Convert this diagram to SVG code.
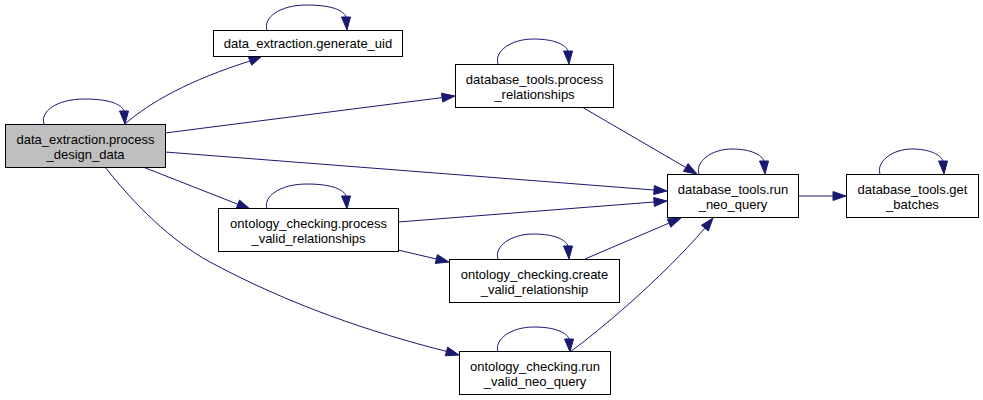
<svg xmlns="http://www.w3.org/2000/svg" width="983" height="400" viewBox="0 0 983 400">
<style>
.n rect{fill:#fff;stroke:#000;stroke-width:1}
.n.cur rect{fill:#bfbfbf}
.n text{font-family:"Liberation Sans",Arial,sans-serif;font-size:13px;text-anchor:middle;fill:#000}
.e path{fill:none;stroke:#191970;stroke-width:1}
.e polygon{fill:#191970;stroke:#191970;stroke-width:1}
</style>
<rect width="983" height="400" fill="#fff"/>
<g id="edges" class="e">
<path d="M44,124 C40,112 56,99 84.5,99 C111,99 122,105 124,111"/><polygon points="128.5,111 119.5,111 125,124"/>
<path d="M267,30 C263,18 279,5 307,5 C333,5 344,11 346,17"/><polygon points="350.5,17 341.5,17 347,30"/>
<path d="M498,64 C494,52 510,39 533.5,39 C555,39 566,45 568,51"/><polygon points="572.5,51 563.5,51 569,64"/>
<path d="M699,174 C695,162 711,149 732,149 C751,149 762,155 764,161"/><polygon points="768.5,161 759.5,161 765,174"/>
<path d="M880,174 C876,162 892,149 912,149 C930,149 941,155 943,161"/><polygon points="947.5,161 938.5,161 944,174"/>
<path d="M267,209 C263,197 279,184 307,184 C333,184 344,190 346,196"/><polygon points="350.5,196 341.5,196 347,209"/>
<path d="M498,259 C494,247 510,234 533.5,234 C555,234 566,240 568,246"/><polygon points="572.5,246 563.5,246 569,259"/>
<path d="M498,352 C494,340 510,327 534,327 C556,327 567,333 569,339"/><polygon points="573.5,339 564.5,339 570,352"/>
<path d="M125,124 C150,102 190,80 250,61"/><polygon points="262,56 251.7,65.2 248.3,56.8"/>
<path d="M165,133 L442.1,97.6"/><polygon points="455,96 442.7,102.1 441.5,93.2"/>
<path d="M165,152 L654,190"/><polygon points="667,191 653.7,194.5 654.4,185.5"/>
<path d="M143,167 L237.9,204.25"/><polygon points="250,209 236.2,208.4 239.5,200.1"/>
<path d="M105,167 C135,205 170,240 210,262 C290,305 370,332 446.5,351.4"/><polygon points="459,355 445.3,355.8 447.7,347.1"/>
<path d="M582,107 L685.8,167.5"/><polygon points="697,174 683.5,171.4 688.1,163.6"/>
<path d="M398,250 L436.35,259"/><polygon points="449,262 435.3,263.4 437.4,254.6"/>
<path d="M398,222 L654,202"/><polygon points="667,201 654.4,206.5 653.7,197.5"/>
<path d="M585,259 L669.05,223.1"/><polygon points="681,218 670.8,227.2 667.3,219"/>
<path d="M570,352 C600,330 660,280 704.9,228.1"/><polygon points="713,218 708.3,231 701.5,225.2"/>
<path d="M798,196 L833,196"/><polygon points="846,196 833,200.5 833,191.5"/>
</g>
<g id="node_process_design_data" class="n cur"><rect x="5.5" y="124.5" width="160" height="43"/><text x="85.5" y="143.5">data_extraction.process</text><text x="85.5" y="158.5">_design_data</text></g>
<g id="node_generate_uid" class="n"><rect x="213.5" y="30.5" width="189" height="26"/><text x="308" y="47.5">data_extraction.generate_uid</text></g>
<g id="node_process_relationships" class="n"><rect x="455.5" y="64.5" width="158" height="43"/><text x="534.5" y="83.5">database_tools.process</text><text x="534.5" y="98.5">_relationships</text></g>
<g id="node_run_neo_query" class="n"><rect x="667.5" y="174.5" width="131" height="43"/><text x="733" y="194">database_tools.run</text><text x="733" y="209">_neo_query</text></g>
<g id="node_get_batches" class="n"><rect x="846.5" y="174.5" width="132" height="43"/><text x="912.5" y="194">database_tools.get</text><text x="912.5" y="209">_batches</text></g>
<g id="node_process_valid_relationships" class="n"><rect x="218.5" y="208.5" width="180" height="43"/><text x="308.5" y="228">ontology_checking.process</text><text x="308.5" y="243">_valid_relationships</text></g>
<g id="node_create_valid_relationship" class="n"><rect x="449.5" y="259.5" width="170" height="43"/><text x="534.5" y="279">ontology_checking.create</text><text x="534.5" y="294">_valid_relationship</text></g>
<g id="node_run_valid_neo_query" class="n"><rect x="459.5" y="351.5" width="151" height="43"/><text x="535" y="371">ontology_checking.run</text><text x="535" y="386">_valid_neo_query</text></g>
</svg>
